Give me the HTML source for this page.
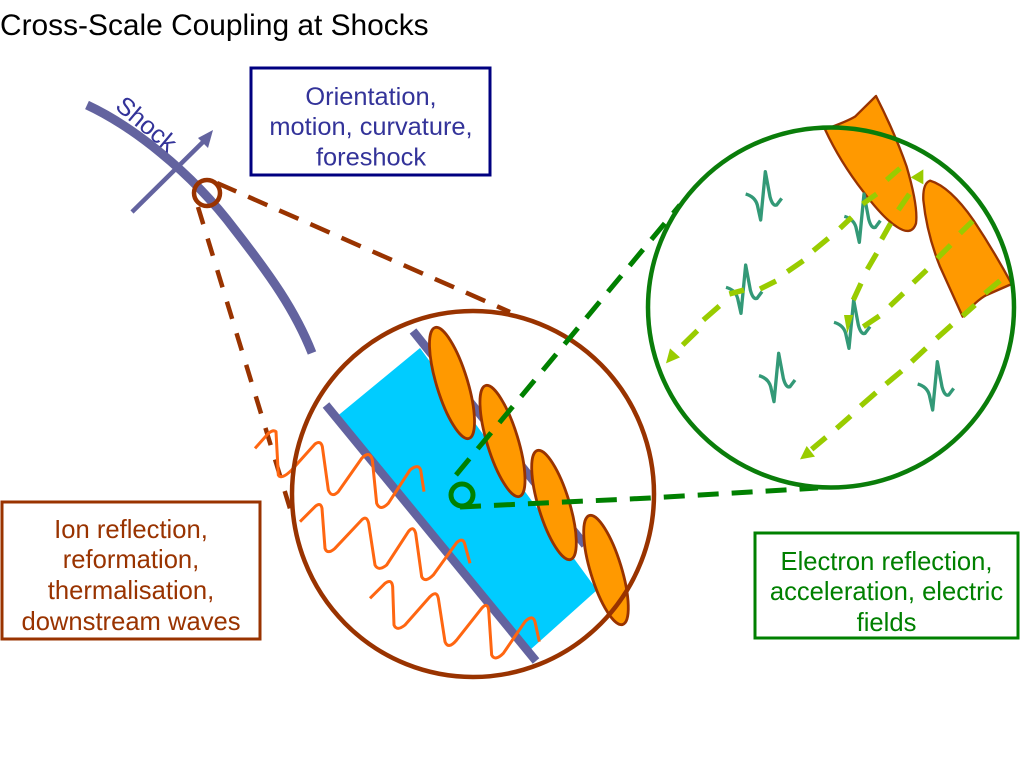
<!DOCTYPE html>
<html><head><meta charset="utf-8"><style>
html,body{margin:0;padding:0;background:#fff}
svg{display:block}
text{font-family:"Liberation Sans",sans-serif}
</style></head><body>
<svg width="1024" height="768" viewBox="0 0 1024 768" xmlns="http://www.w3.org/2000/svg">
<rect width="1024" height="768" fill="#fff"/>
<text x="0" y="35" font-size="29.9" fill="#000">Cross-Scale Coupling at Shocks</text>

<!-- shock -->
<path d="M87,105 C130,125 190,170 235,230 C270,275 295,310 312,353" fill="none" stroke="#63639f" stroke-width="9"/>
<line x1="132" y1="212" x2="205" y2="140" stroke="#63639f" stroke-width="4.5"/>
<polygon points="213,130 208,148 198,138" fill="#63639f"/>
<text transform="translate(114,108) rotate(40)" font-size="25.3" fill="#333399">Shock</text>

<!-- brown connectors -->
<circle cx="207" cy="193" r="13" fill="none" stroke="#993300" stroke-width="4.5"/>
<line x1="217" y1="183" x2="510" y2="312" stroke="#993300" stroke-width="4.5" stroke-dasharray="21 13"/>
<line x1="198" y1="207" x2="292" y2="515" stroke="#993300" stroke-width="4.5" stroke-dasharray="18 15"/>

<!-- blue band -->
<polygon points="335,418 420,348 597,590 530,650" fill="#00ccff"/>
<line x1="326" y1="405" x2="536" y2="661" stroke="#63639f" stroke-width="8.5"/>
<line x1="413" y1="331" x2="585" y2="545" stroke="#63639f" stroke-width="8.5"/>

<!-- orange ellipses -->
<g fill="#ff9900" stroke="#993300" stroke-width="2.8">
<ellipse cx="452" cy="383" rx="15.5" ry="58" transform="rotate(-17 452 383)"/>
<ellipse cx="502.5" cy="441" rx="15.5" ry="58" transform="rotate(-17 502.5 441)"/>
<ellipse cx="554" cy="505" rx="15.5" ry="57" transform="rotate(-17 554 505)"/>
<ellipse cx="606" cy="570" rx="15.5" ry="57" transform="rotate(-17 606 570)"/>
</g>

<!-- waves -->
<g transform="translate(250 300) scale(.33333)" fill="none" stroke="#ff6611" stroke-width="9" stroke-linejoin="round">
<path d="M15,445 L55,400 Q70,388 78,395 L85,525 Q95,540 125,510 L195,432 Q212,420 217,440 L235,570 Q245,595 265,575 L335,475 Q360,450 367,480 L380,610 Q390,635 415,610 L480,510 Q505,490 512,510 L522,575"/>
<path d="M150,665 L195,620 Q212,605 216,625 L225,745 Q232,765 255,745 L335,660 Q350,645 356,670 L375,795 Q385,815 410,795 L475,695 Q490,675 497,700 L515,830 Q525,850 550,825 L620,728 Q640,710 645,735 L660,790"/>
<path d="M360,895 L405,850 Q425,835 428,860 L432,975 Q440,995 465,975 L540,890 Q560,870 565,895 L585,1025 Q595,1050 620,1020 L695,925 Q712,905 716,930 L725,1065 Q735,1085 760,1060 L825,965 Q850,940 856,970 L868,1025"/>
</g>

<!-- brown circle -->
<ellipse cx="473" cy="494" rx="181" ry="183" fill="none" stroke="#993300" stroke-width="4.5"/>

<!-- green connectors -->
<circle cx="462" cy="495" r="11" fill="none" stroke="#008000" stroke-width="5"/>
<line x1="456" y1="475" x2="680" y2="205" stroke="#008000" stroke-width="5" stroke-dasharray="21 13"/>
<path d="M460,507 L650,498 L818,488" fill="none" stroke="#008000" stroke-width="5" stroke-dasharray="21 13"/>

<!-- right circle contents -->
<g transform="translate(640 90) scale(.33333)">
<g fill="#ff9900" stroke="#993300" stroke-width="7" stroke-linejoin="round">
<path d="M708,18 L645,80 Q620,95 555,118 Q600,215 670,305 Q730,385 770,410 Q815,440 828,400 Q835,350 800,230 Q765,130 708,18Z"/>
<path d="M870,272 Q848,280 850,330 Q860,430 900,530 L968,680 Q1010,630 1040,615 L1115,582 Q1060,480 1000,390 Q930,290 870,272Z"/>
</g>
<g fill="none" stroke="#339977" stroke-width="10" stroke-linejoin="round">
<path d="M317,312 Q345,320 352,345 L362,390 L376,245 L390,320 Q398,350 410,345 L425,325"/>
<path d="M317,312 Q345,320 352,345 L362,390 L376,245 L390,320 Q398,350 410,345 L425,325" transform="translate(296,67)"/>
<path d="M317,312 Q345,320 352,345 L362,390 L376,245 L390,320 Q398,350 410,345 L425,325" transform="translate(-59,280)"/>
<path d="M317,312 Q345,320 352,345 L362,390 L376,245 L390,320 Q398,350 410,345 L425,325" transform="translate(265,385)"/>
<path d="M317,312 Q345,320 352,345 L362,390 L376,245 L390,320 Q398,350 410,345 L425,325" transform="translate(40,545)"/>
<path d="M317,312 Q345,320 352,345 L362,390 L376,245 L390,320 Q398,350 410,345 L425,325" transform="translate(516,570)"/>
</g>
<g fill="none" stroke="#99cc00" stroke-width="16">
<path d="M780,235L740,270M710,312L668,342M635,382L600,415M565,445L520,482M490,512L442,545M408,573L360,597M312,600L268,612M238,648L190,690M172,722L128,765"/>
<path d="M808,312L775,360M752,400L725,448M710,490L682,538M663,580L640,630"/>
<path d="M998,393L960,430M932,465L892,505M860,540L820,578M790,610L750,648M718,678L670,710"/>
<path d="M1080,572L1035,610M1005,645L968,678M935,705L890,745M858,775L815,815M785,843L738,882M708,908L662,948M632,978L590,1015M558,1042L515,1078"/>
</g>
<g fill="#99cc00">
<polygon points="78,820 120,802 90,775"/>
<polygon points="850,238 812,262 850,283"/>
<polygon points="622,730 612,675 640,675"/>
<polygon points="480,1108 525,1100 500,1068"/>
</g>
</g>
<ellipse cx="831" cy="307.5" rx="183" ry="180" fill="none" stroke="#0a7d0a" stroke-width="4.5"/>

<!-- boxes -->
<rect x="251" y="68" width="239" height="107" fill="#fff" stroke="#000080" stroke-width="3"/>
<g font-size="25.4" fill="#333399" text-anchor="middle">
<text x="371" y="105">Orientation,</text>
<text x="371" y="135">motion, curvature,</text>
<text x="371" y="165.500">foreshock</text>
</g>
<rect x="2" y="502" width="258" height="137" fill="#fff" stroke="#993300" stroke-width="3"/>
<g font-size="25.6" fill="#993300" text-anchor="middle">
<text x="131" y="538">Ion reflection,</text>
<text x="131" y="568">reformation,</text>
<text x="131" y="599">thermalisation,</text>
<text x="131" y="630">downstream waves</text>
</g>
<rect x="755" y="533" width="263" height="105" fill="#fff" stroke="#008000" stroke-width="3"/>
<g font-size="25.6" fill="#008000" text-anchor="middle">
<text x="886.500" y="570">Electron reflection,</text>
<text x="886.500" y="600">acceleration, electric</text>
<text x="886.500" y="631">fields</text>
</g>
</svg>
</body></html>
